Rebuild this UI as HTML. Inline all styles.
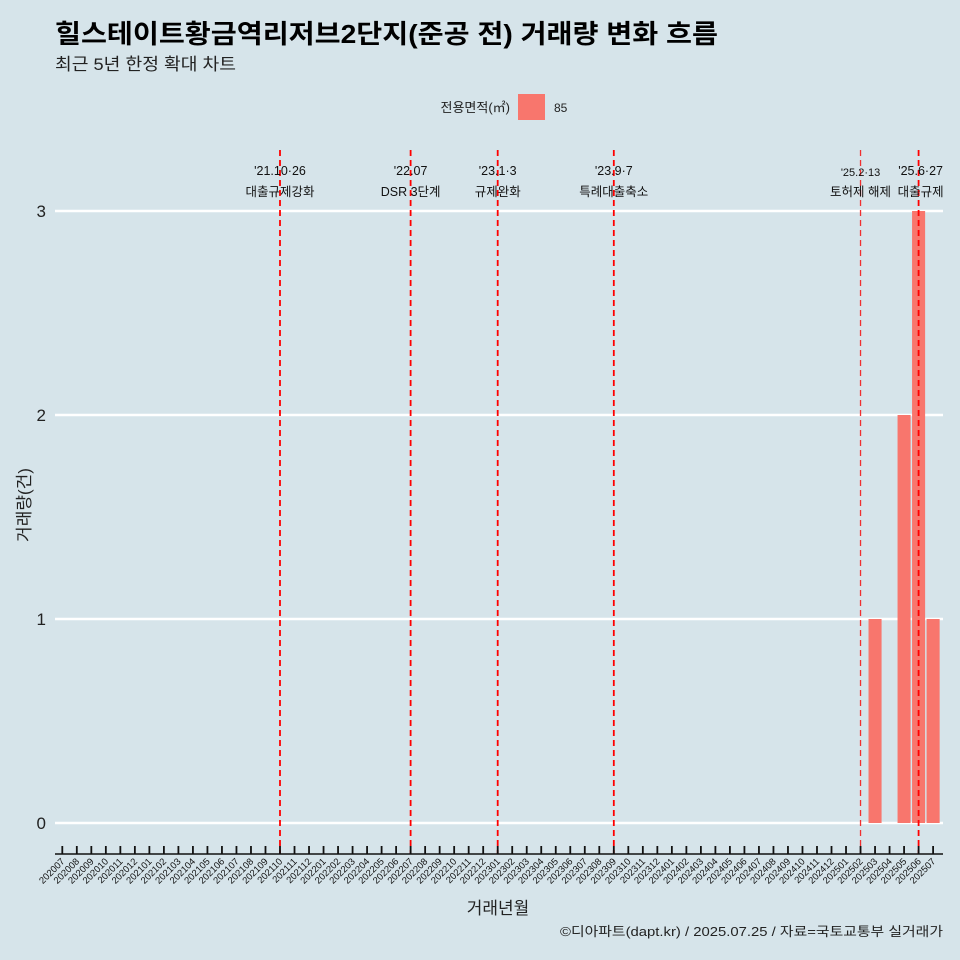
<!DOCTYPE html>
<html><head><meta charset="utf-8"><style>
body{margin:0;background:#d6e4ea;}
svg{display:block;font-family:"Liberation Sans","Noto Sans CJK KR",sans-serif;}
</style></head><body>
<svg id="c" width="960" height="960">
<rect width="960" height="960" fill="#d6e4ea"/>
<text x="55" y="43" font-size="26" font-weight="bold" fill="#000" textLength="663" lengthAdjust="spacingAndGlyphs">힐스테이트황금역리저브2단지(준공 전) 거래량 변화 흐름</text>
<text x="55" y="70" font-size="17" fill="#222" textLength="181" lengthAdjust="spacingAndGlyphs">최근 5년 한정 확대 차트</text>
<g>
<text x="510" y="112" font-size="13" text-anchor="end" fill="#222">전용면적(㎡)</text>
<rect x="518" y="94" width="27" height="26" fill="#f8766d"/>
<text x="554" y="112" font-size="12" fill="#222">85</text>
</g>
<g id="grid"></g><g id="bars"></g><g id="events"></g><g id="xaxis"></g>
<text x="30" y="505" font-size="17" fill="#222" text-anchor="middle" transform="rotate(-90 30 505)">거래량(건)</text>
<text x="498" y="914" font-size="17" fill="#222" text-anchor="middle">거래년월</text>
<text x="560" y="936" font-size="13" fill="#222" textLength="383" lengthAdjust="spacingAndGlyphs">©디아파트(dapt.kr) / 2025.07.25 / 자료=국토교통부 실거래가</text>
</svg>
<script>
const months=[];
for(let y=2020;y<=2025;y++)for(let m=1;m<=12;m++){const k=y*100+m;if(k>=202007&&k<=202507)months.push(String(k));}
const barMonths=["202503","202505","202506","202507"];
const barValues=[1,2,3,1];
const yTicks=[0,1,2,3];
const eventMonths=["202110","202207","202301","202309","202502","202506"];
const eventDates=["'21.10·26","'22.07","'23.1·3","'23.9·7","'25.2·13","'25.6·27"];
const eventLabels=["대출규제강화","DSR 3단계","규제완화","특례대출축소","토허제 해제","대출규제"];
const NS="http://www.w3.org/2000/svg";
const x0=62.3,step=(280-62.3)/15;
const X=m=>x0+months.indexOf(m)*step;
const Y=v=>823-v*204;
function mk(t,a,p){const e=document.createElementNS(NS,t);for(const k in a)e.setAttribute(k,a[k]);p.appendChild(e);return e;}
const grid=document.getElementById('grid');
yTicks.forEach(v=>{
 const l=mk('line',{x1:55,x2:943,y1:Y(v),y2:Y(v),stroke:'#fff','stroke-width':2.4},grid);
 
 
 const t=mk('text',{x:46,y:Y(v)+6,'font-size':17,'text-anchor':'end',fill:'#222'},grid);
 t.textContent=v;
 
 
});
const bars=document.getElementById('bars');
barMonths.forEach((m,i)=>{
 const w=step*0.9;
 const r=mk('rect',{x:X(m)-w/2,y:Y(barValues[i]),width:w,height:Y(0)-Y(barValues[i]),fill:'#f8766d'},bars);
 
 
});
const ev=document.getElementById('events');
eventMonths.forEach((m,i)=>{
 const x=X(m),small=i==4;
 const l=mk('line',{x1:x,x2:x,y1:150,y2:854,stroke:small?'#f03030':'#ff0000','stroke-width':small?1.3:1.8,'stroke-dasharray':'6,4'},ev);
 
 
 const ax=i==5?x+2:x;
 const d=mk('text',{x:ax,y:small?176:175,'font-size':small?11:12.5,'text-anchor':'middle',fill:'#111'},ev);
 d.textContent=eventDates[i];
 
 
 const t=mk('text',{x:ax,y:196,'font-size':12.5,'text-anchor':'middle',fill:'#111'},ev);
 t.textContent=eventLabels[i];
 
 
});
const xa=document.getElementById('xaxis');
const al=mk('line',{x1:55,x2:943,y1:854,y2:854,stroke:'#111','stroke-width':1.6},xa);


months.forEach(m=>{
 const x=X(m);
 const tk=mk('line',{x1:x,x2:x,y1:846,y2:854,stroke:'#111','stroke-width':1.8},xa);
 
 
 const t=mk('text',{x:x+3,y:862,'font-size':9.5,'text-anchor':'end',fill:'#111',transform:`rotate(-45 ${x+3} 862)`},xa);
 t.textContent=m;
 
 
});
</script>
</body></html>
